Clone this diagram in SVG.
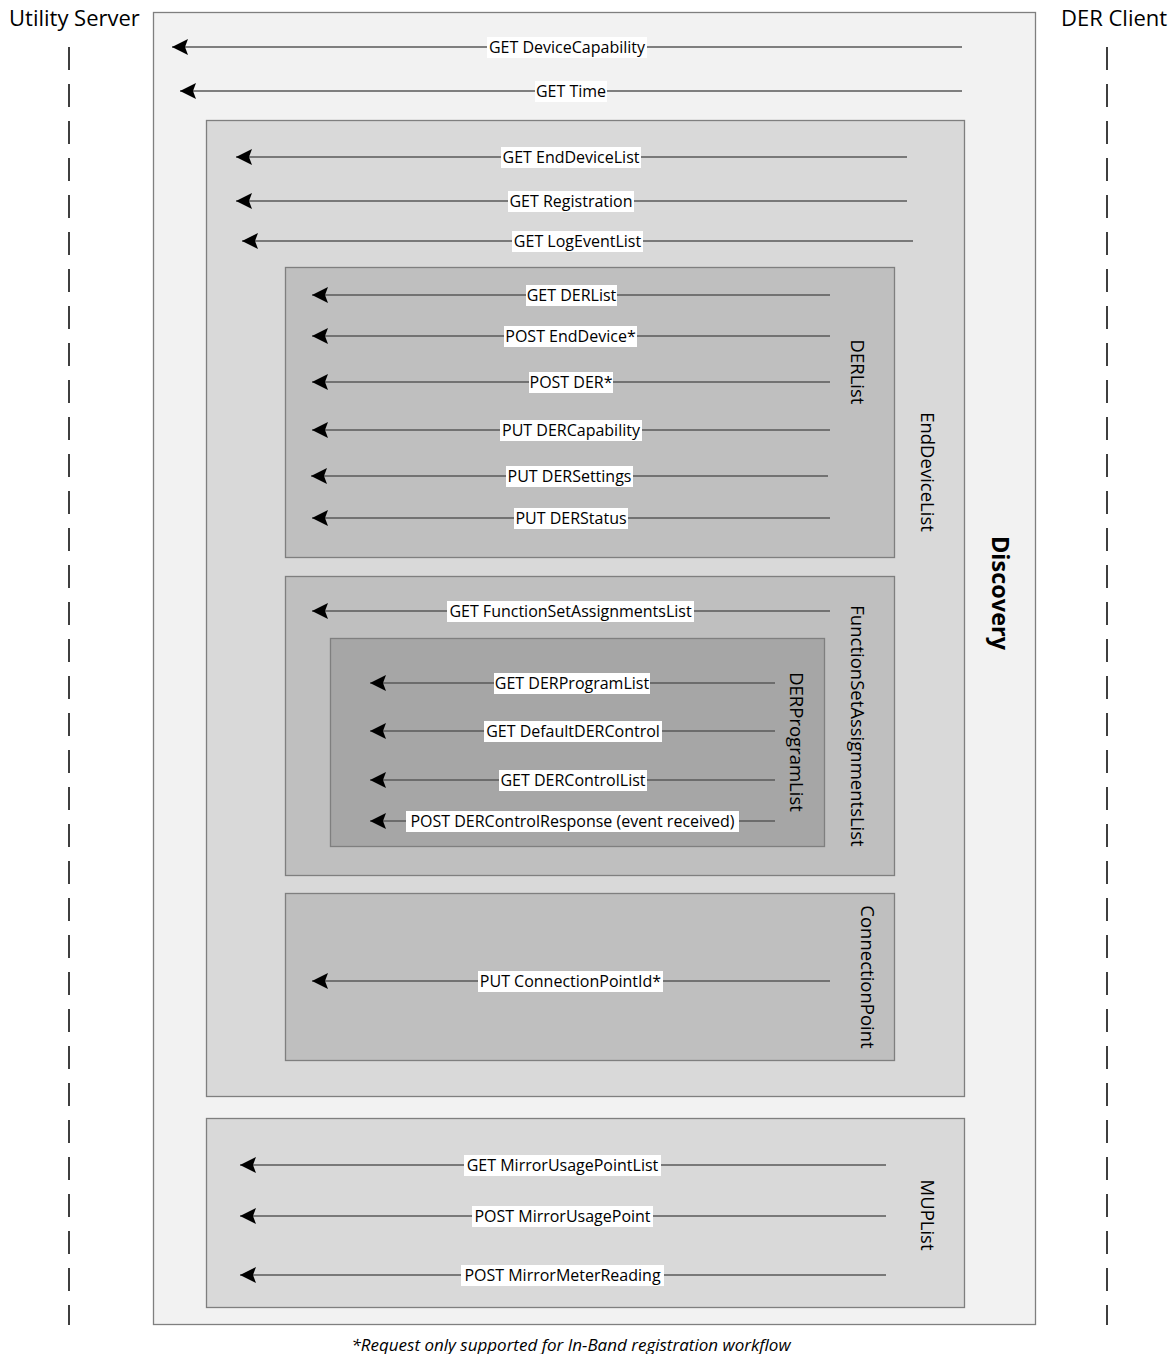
<svg xmlns="http://www.w3.org/2000/svg" width="1176" height="1354" viewBox="0 0 1176 1354">
<defs>
<marker id="ah" markerWidth="18" markerHeight="18" viewBox="0 0 18 18" refX="17" refY="9" orient="auto" markerUnits="userSpaceOnUse">
<path d="M17,9 L1,1 L4,9 L1,17 Z" fill="#000"/>
</marker>
<style>
.lbl{font-family:"Open Sans","Liberation Sans",sans-serif;font-size:16px;fill:#000;text-anchor:middle}
.bg{fill:#fff}
.msg{stroke:#595959;stroke-width:1.4;fill:none;marker-end:url(#ah)}
.box{stroke:#7f7f7f;stroke-width:1.3}
.vl{font-family:"Open Sans","Liberation Sans",sans-serif;font-size:18.5px;fill:#000;text-anchor:middle}
.life{stroke:#000;stroke-width:1.5;stroke-dasharray:23 14}
.actor{font-family:"Open Sans","Liberation Sans",sans-serif;font-size:22px;fill:#000}
</style>
</defs>
<rect width="1176" height="1354" fill="#fff"/>

<g id="utility-server">
<text class="actor" x="9" y="26">Utility Server</text>
<line class="life" x1="69" y1="47" x2="69" y2="1325"/>
</g>
<g id="der-client">
<text class="actor" x="1061" y="26">DER Client</text>
<line class="life" x1="1107" y1="47" x2="1107" y2="1325"/>
</g>

<g id="discovery">
<rect class="box" x="153.5" y="12.5" width="882" height="1312" fill="#f2f2f2"/>
<text transform="translate(992,593) rotate(90)" text-anchor="middle" font-family="Open Sans, Liberation Sans, sans-serif" font-size="23.5" font-weight="bold">Discovery</text>
</g>
<g id="enddevicelist">
<rect class="box" x="206.5" y="120.5" width="758" height="976" fill="#d9d9d9"/>
<text class="vl" transform="translate(921,472) rotate(90)">EndDeviceList</text>
</g>
<g id="derlist">
<rect class="box" x="285.5" y="267.5" width="609" height="290" fill="#bfbfbf"/>
<text class="vl" transform="translate(851,372) rotate(90)">DERList</text>
</g>
<g id="functionsetassignmentslist">
<rect class="box" x="285.5" y="576.5" width="609" height="299" fill="#bfbfbf"/>
<text class="vl" transform="translate(851,726) rotate(90)">FunctionSetAssignmentsList</text>
</g>
<g id="derprogramlist">
<rect class="box" x="330.5" y="638.5" width="494" height="208" fill="#a6a6a6"/>
<text class="vl" transform="translate(790,742) rotate(90)">DERProgramList</text>
</g>
<g id="connectionpoint">
<rect class="box" x="285.5" y="893.5" width="609" height="167" fill="#bfbfbf"/>
<text class="vl" transform="translate(861,977) rotate(90)">ConnectionPoint</text>
</g>
<g id="muplist">
<rect class="box" x="206.5" y="1118.5" width="758" height="189" fill="#d9d9d9"/>
<text class="vl" transform="translate(921,1215) rotate(90)">MUPList</text>
</g>

<g id="connectors">
<line class="msg" x1="962" y1="47" x2="172" y2="47"/>
<line class="msg" x1="962" y1="91" x2="180" y2="91"/>
<line class="msg" x1="907" y1="157" x2="236" y2="157"/>
<line class="msg" x1="907" y1="201" x2="236" y2="201"/>
<line class="msg" x1="913" y1="241" x2="242" y2="241"/>
<line class="msg" x1="830" y1="295" x2="312" y2="295"/>
<line class="msg" x1="830" y1="336" x2="312" y2="336"/>
<line class="msg" x1="830" y1="382" x2="312" y2="382"/>
<line class="msg" x1="830" y1="430" x2="312" y2="430"/>
<line class="msg" x1="828" y1="476" x2="311" y2="476"/>
<line class="msg" x1="830" y1="518" x2="312" y2="518"/>
<line class="msg" x1="830" y1="611" x2="312" y2="611"/>
<line class="msg" x1="775" y1="683" x2="370" y2="683"/>
<line class="msg" x1="775" y1="731" x2="370" y2="731"/>
<line class="msg" x1="775" y1="780" x2="370" y2="780"/>
<line class="msg" x1="775" y1="821" x2="370" y2="821"/>
<line class="msg" x1="830" y1="981" x2="312" y2="981"/>
<line class="msg" x1="886" y1="1165" x2="240" y2="1165"/>
<line class="msg" x1="886" y1="1216" x2="240" y2="1216"/>
<line class="msg" x1="886" y1="1275" x2="240" y2="1275"/>

<rect class="bg" x="487" y="37" width="160" height="21"/><text class="lbl" x="567" y="53">GET DeviceCapability</text>
<rect class="bg" x="535" y="81" width="72" height="21"/><text class="lbl" x="571" y="97">GET Time</text>
<rect class="bg" x="501" y="147" width="140" height="21"/><text class="lbl" x="571" y="163">GET EndDeviceList</text>
<rect class="bg" x="508" y="191" width="126" height="21"/><text class="lbl" x="571" y="207">GET Registration</text>
<rect class="bg" x="512" y="231" width="131" height="21"/><text class="lbl" x="577.5" y="247">GET LogEventList</text>
<rect class="bg" x="526" y="285" width="91" height="21"/><text class="lbl" x="571.5" y="301">GET DERList</text>
<rect class="bg" x="504" y="326" width="133" height="21"/><text class="lbl" x="570.5" y="342">POST EndDevice*</text>
<rect class="bg" x="529" y="372" width="84" height="21"/><text class="lbl" x="571" y="388">POST DER*</text>
<rect class="bg" x="500" y="420" width="142" height="21"/><text class="lbl" x="571" y="436">PUT DERCapability</text>
<rect class="bg" x="506" y="466" width="127" height="21"/><text class="lbl" x="569.5" y="482">PUT DERSettings</text>
<rect class="bg" x="514" y="508" width="114" height="21"/><text class="lbl" x="571" y="524">PUT DERStatus</text>
<rect class="bg" x="447" y="601" width="247" height="21"/><text class="lbl" x="570.5" y="617">GET FunctionSetAssignmentsList</text>
<rect class="bg" x="494" y="673" width="156" height="21"/><text class="lbl" x="572" y="689">GET DERProgramList</text>
<rect class="bg" x="484" y="721" width="178" height="21"/><text class="lbl" x="573" y="737">GET DefaultDERControl</text>
<rect class="bg" x="499" y="770" width="148" height="21"/><text class="lbl" x="573" y="786">GET DERControlList</text>
<rect class="bg" x="406" y="811" width="333" height="21"/><text class="lbl" x="572.5" y="827">POST DERControlResponse (event received)</text>
<rect class="bg" x="478" y="971" width="185" height="21"/><text class="lbl" x="570.5" y="987">PUT ConnectionPointId*</text>
<rect class="bg" x="464" y="1155" width="197" height="21"/><text class="lbl" x="562.5" y="1171">GET MirrorUsagePointList</text>
<rect class="bg" x="472" y="1206" width="181" height="21"/><text class="lbl" x="562.5" y="1222">POST MirrorUsagePoint</text>
<rect class="bg" x="461" y="1265" width="203" height="21"/><text class="lbl" x="562.5" y="1281">POST MirrorMeterReading</text>
</g>

<text x="571" y="1351" text-anchor="middle" font-family="Open Sans, Liberation Sans, sans-serif" font-size="17" font-style="italic">*Request only supported for In-Band registration workflow</text>
</svg>
